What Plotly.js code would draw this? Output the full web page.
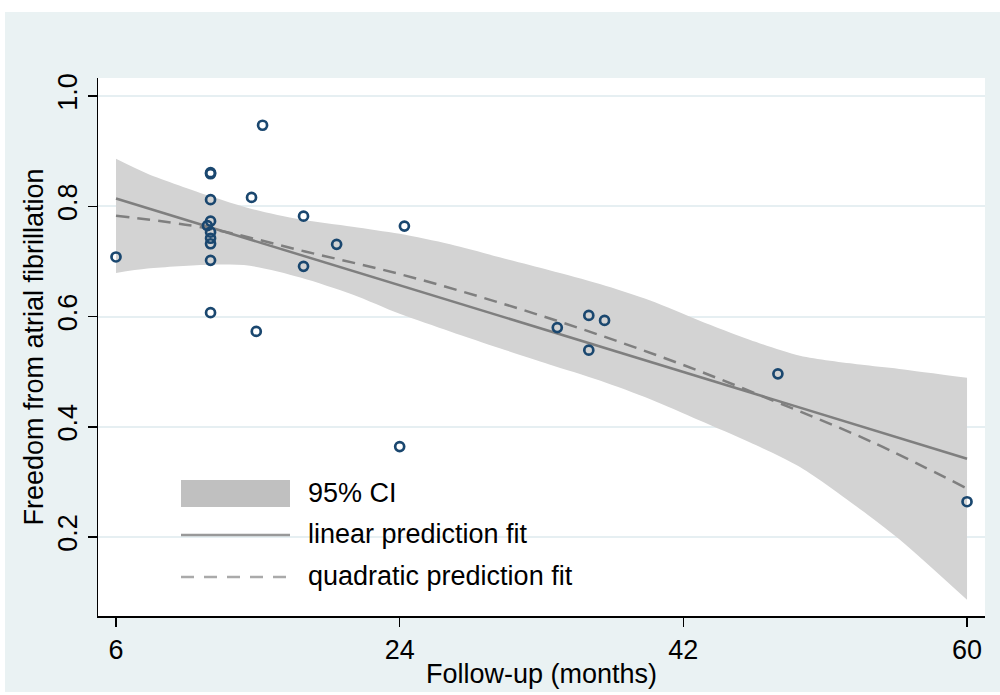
<!DOCTYPE html>
<html>
<head>
<meta charset="utf-8">
<script src="https://cdn.plot.ly/plotly-3.0.1.min.js"></script>
<style>
html,body{margin:0;padding:0;background:#ffffff;}
#chart{width:1000px;height:695px;}
</style>
</head>
<body>
<div id="chart"></div>
<script>
// ---- data ----
const followUp = [6, 12, 12, 12, 12, 11.8, 12, 12, 12, 12, 12, 14.6, 15.3, 14.9, 17.9, 17.9, 20, 24.3, 24, 34, 36, 37, 36, 48, 60];
const freedom  = [0.708, 0.859, 0.861, 0.812, 0.773, 0.765, 0.753, 0.742, 0.732, 0.702, 0.607, 0.816, 0.947, 0.573, 0.782, 0.691, 0.731, 0.764, 0.364, 0.580, 0.602, 0.593, 0.539, 0.496, 0.264];

const linX = [6, 60];
const linY = [0.814, 0.342];

const quadX = [6, 12, 18, 24, 30, 36, 42, 48, 54, 60];
const quadY = [0.783, 0.759, 0.718, 0.677, 0.628, 0.573, 0.512, 0.444, 0.372, 0.288];

const bandX  = [6, 8, 12, 14.5, 17.7, 21, 24, 27.2, 30.4, 33.5, 36.7, 39.9, 43, 46.2, 49.4, 53.2, 55.7, 60];
const bandUp = [0.886, 0.859, 0.818, 0.796, 0.776, 0.763, 0.750, 0.731, 0.707, 0.684, 0.659, 0.629, 0.593, 0.558, 0.529, 0.513, 0.505, 0.489];
const bandLo = [0.679, 0.687, 0.694, 0.692, 0.671, 0.640, 0.605, 0.573, 0.542, 0.513, 0.484, 0.450, 0.412, 0.372, 0.327, 0.251, 0.196, 0.086];

const xTicks = [6, 24, 42, 60];
const yTicks = [0.2, 0.4, 0.6, 0.8, 1.0];
const yTickText = ['0.2', '0.4', '0.6', '0.8', '1.0'];

const legendLabels = ['95% CI', 'linear prediction fit', 'quadratic prediction fit'];

// ---- styling ----
const FONT = 'Arial, "Liberation Sans", sans-serif';
const FS = 27;
const BG = '#eaf2f3';
const GRID = '#e6eff2';
const BAND = '#d3d3d3';
const FITC = '#7f7f7f';
const NAVY = '#1a476f';

const W = 1000, H = 695;
const M = {l: 98, r: 15, t: 78, b: 79};
const PW = W - M.l - M.r, PH = H - M.t - M.b;
const px = v => (v - M.l) / PW;       // pixel x -> paper x
const py = v => (H - M.b - v) / PH;   // pixel y -> paper y

const traces = [
  {x: bandX, y: bandLo, type: 'scatter', mode: 'lines', line: {width: 0, shape: 'spline', smoothing: 0.8, color: BAND},
   hoverinfo: 'skip', showlegend: false, name: '95% CI lower'},
  {x: bandX, y: bandUp, type: 'scatter', mode: 'lines', fill: 'tonexty', fillcolor: BAND,
   line: {width: 0, shape: 'spline', smoothing: 0.8, color: BAND}, showlegend: false, name: legendLabels[0]},
  {x: linX, y: linY, type: 'scatter', mode: 'lines', line: {color: FITC, width: 2.5},
   showlegend: false, name: legendLabels[1]},
  {x: quadX, y: quadY, type: 'scatter', mode: 'lines', line: {color: FITC, width: 2.5, dash: '13px,8px', shape: 'spline'},
   showlegend: false, name: legendLabels[2]},
  {x: followUp, y: freedom, type: 'scatter', mode: 'markers',
   marker: {symbol: 'circle-open', size: 9, color: NAVY, line: {width: 2.7, color: NAVY}},
   showlegend: false, name: 'Freedom'}
];

const legX0 = px(181), legX1 = px(290), legTextX = px(306);
const shapes = [
  // white strips around the graph region
  {type: 'rect', xref: 'paper', yref: 'paper', x0: px(-5), x1: px(1005), y0: py(12), y1: py(-5), fillcolor: '#ffffff', line: {width: 0}, layer: 'above'},
  {type: 'rect', xref: 'paper', yref: 'paper', x0: px(-5), x1: px(5), y0: py(700), y1: py(-5), fillcolor: '#ffffff', line: {width: 0}, layer: 'above'},
  {type: 'rect', xref: 'paper', yref: 'paper', x0: px(-5), x1: px(1005), y0: py(700), y1: py(692), fillcolor: '#ffffff', line: {width: 0}, layer: 'above'},
  // legend keys
  {type: 'rect', xref: 'paper', yref: 'paper', x0: legX0, x1: legX1, y0: py(507), y1: py(480), fillcolor: '#c0c0c0', line: {width: 0}},
  {type: 'line', xref: 'paper', yref: 'paper', x0: legX0, x1: legX1, y0: py(535), y1: py(535), line: {color: '#999999', width: 2.5}},
  {type: 'line', xref: 'paper', yref: 'paper', x0: legX0, x1: legX1, y0: py(577), y1: py(577), line: {color: '#aaaaaa', width: 2.5, dash: '13px,10px'}}
];

const annotations = [
  {text: legendLabels[0], y: py(493)},
  {text: legendLabels[1], y: py(534)},
  {text: legendLabels[2], y: py(576)}
].map(a => Object.assign({xref: 'paper', yref: 'paper', x: legTextX, xanchor: 'left', yanchor: 'middle',
  showarrow: false, font: {family: FONT, size: FS, color: '#000'}}, a));

const layout = {
  width: W, height: H,
  margin: M,
  paper_bgcolor: BG,
  plot_bgcolor: '#ffffff',
  font: {family: FONT, color: '#000'},
  showlegend: false,
  xaxis: {
    range: [4.858, 61.14], tickvals: xTicks, ticktext: xTicks.map(String),
    showgrid: false, zeroline: false, showline: true, linecolor: '#000', linewidth: 1.5,
    ticks: 'outside', ticklen: 9, tickwidth: 1.5, tickcolor: '#000',
    tickfont: {family: FONT, size: FS, color: '#000'},
    title: {text: 'Follow-up (months)', font: {family: FONT, size: FS, color: '#000'}, standoff: 0}
  },
  yaxis: {
    range: [0.0567, 1.0327], tickvals: yTicks, ticktext: yTickText, tickangle: -90,
    showgrid: true, gridcolor: GRID, gridwidth: 2, zeroline: false,
    showline: true, linecolor: '#000', linewidth: 1.5,
    ticks: 'outside', ticklen: 9, tickwidth: 1.5, tickcolor: '#000',
    tickfont: {family: FONT, size: FS, color: '#000'},
    title: {text: 'Freedom from atrial fibrillation', font: {family: FONT, size: FS, color: '#000'}, standoff: 1}
  },
  shapes: shapes,
  annotations: annotations
};

Plotly.newPlot('chart', traces, layout, {displayModeBar: false, staticPlot: true});
</script>
</body>
</html>
